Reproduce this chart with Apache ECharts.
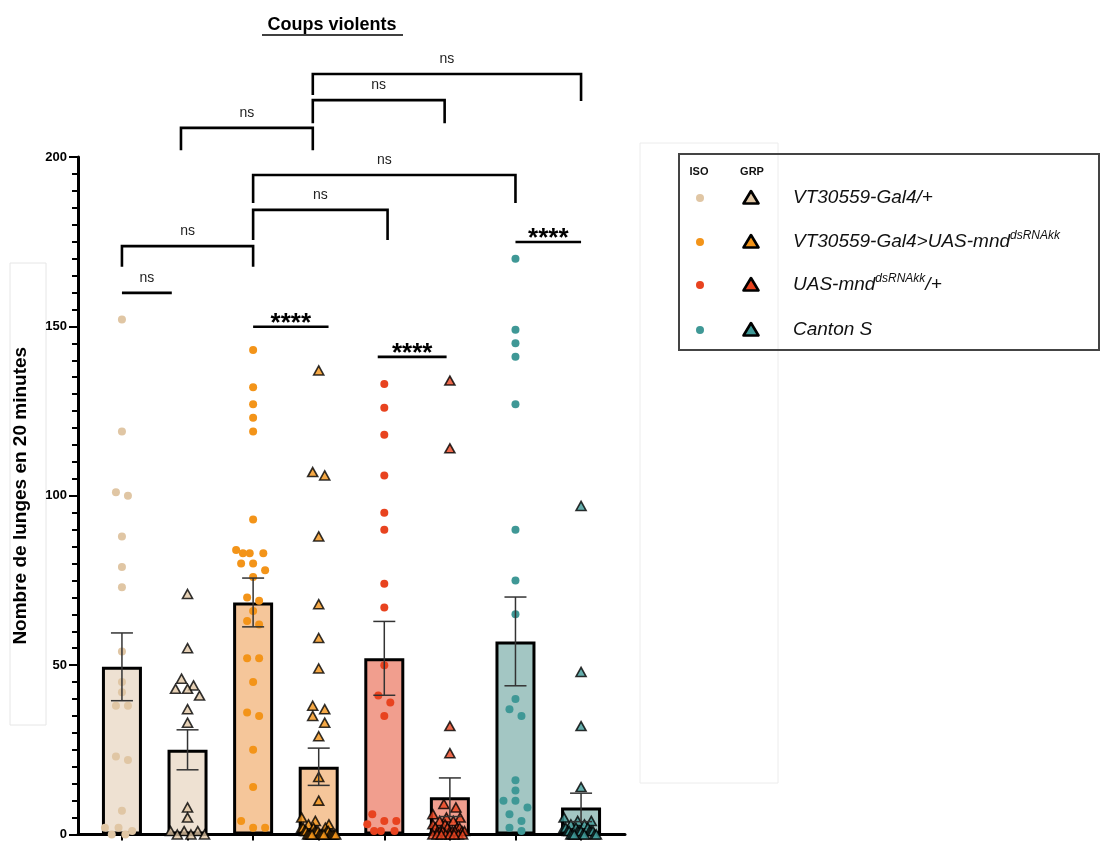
<!DOCTYPE html>
<html><head><meta charset="utf-8">
<script src="https://cdn.jsdelivr.net/npm/echarts@6/dist/echarts.min.js"></script>
<style>html,body{margin:0;padding:0;background:#fff}#c{width:1102px;height:841px}</style>
</head><body><div id="c"></div>
<script>
// ---------- DATA ----------
const genotypes = ['VT30559-Gal4/+', 'VT30559-Gal4>UAS-mnd', 'UAS-mnd', 'Canton S'];
const groupNames = ['VT/+ ISO','VT/+ GRP','VT>mnd ISO','VT>mnd GRP','mnd/+ ISO','mnd/+ GRP','CS ISO','CS GRP'];
const means = [49.5, 25, 68.5, 20, 52, 11, 57, 8];
const sems  = [10, 5.9, 7.2, 5.5, 10.9, 5.7, 13.1, 4.2];
const pts0 = [152,119,101,100,88,79,73,54,45,42,38,38,23,22,7,2,2,1,0,0];
const pts1 = [71,55,46,44,43,43,41,37,33,8,5,1,1,1,0,0,0];
const pts2 = [143,132,127,123,119,93,84,83,83,83,80,80,78,76,70,69,66,63,62,52,52,45,36,35,25,14,4,2,2];
const pts3 = [137,107,106,88,68,58,49,38,37,35,33,29,17,10,5,4,3,3,2,2,2,2,1,1,1,1,1,1,1,0,0,0,0,0,0,0,0,0,0,0,0,0];
const pts4 = [133,126,118,106,95,90,74,67,50,41,39,35,6,4,4,3,1,1,1];
const pts5 = [134,114,32,24,9,8,6,5,5,4,4,3,3,2,2,2,2,1,1,1,1,1,1,1,1,0,0,0,0,0,0,0,0];
const pts6 = [170,149,145,141,127,90,75,65,40,37,35,16,13,10,10,8,6,4,2,1];
const pts7 = [97,48,32,14,5,4,4,3,3,2,2,2,2,1,1,1,1,1,1,1,1,0,0,0,0,0,0,0];
const points = [pts0, pts1, pts2, pts3, pts4, pts5, pts6, pts7];
const yTicks = [0, 50, 100, 150, 200];
// brackets: [fromX, toX, level, leftLegEnd, rightLegEnd, label]
const brackets = [
  [2.91, 7, 224.5, 218.3, 216.5, 'ns'],
  [2.91, 4.92, 216.8, 210, 210, 'ns'],
  [0.9, 2.91, 208.6, 202, 202, 'ns'],
  [2, 6, 194.7, 186.4, 186.4, 'ns'],
  [2, 4.05, 184.4, 175.5, 175.5, 'ns'],
  [0, 2, 173.7, 167.6, 167.6, 'ns'],
  [0, 0.76, 159.9, 159.9, 159.9, 'ns'],
  [2, 3.15, 149.9, 149.9, 149.9, '****'],
  [3.9, 4.95, 141, 141, 141, '****'],
  [6, 7, 174.9, 174.9, 174.9, '****']
];
const legendLabels = [
  [{t:'VT30559-Gal4/+', sup:''}],
  [{t:'VT30559-Gal4>UAS-mnd', sup:'dsRNAkk'}],
  [{t:'UAS-mnd', sup:'dsRNAkk'}, {t:'/+', sup:''}],
  [{t:'Canton S', sup:''}]
];
// ---------- STYLE ----------
const barFill = ['#EEE1D2','#EEE1D2','#F5C69A','#F5C69A','#F19E8E','#F19E8E','#A3C6C3','#A3C6C3'];
const ptColor = ['#E0C6A4','#E0C6A4','#F39419','#F39419','#E8431F','#E8431F','#3F9896','#3F9896'];
const FONT = '"Liberation Sans", Arial, Helvetica, sans-serif';
const GRID = {left: 78, top: 157, width: 547, height: 678};
const X_MIN = -0.67, X_MAX = 7.67, Y_MIN = 0, Y_MAX = 200;

function swarm(values, idx, rowPx, stepPx, maxHalfPx) {
  const pxPerY = GRID.height / (Y_MAX - Y_MIN);
  const pxPerX = GRID.width / (X_MAX - X_MIN);
  const s = values.slice().sort((a, b) => b - a);
  const out = [];
  let i = 0;
  const cap = Math.floor(2 * maxHalfPx / stepPx) + 1;
  while (i < s.length) {
    let j = i;
    while (j < s.length && (s[i] - s[j]) * pxPerY < rowPx) j++;
    const row = s.slice(i, j), n = row.length;
    if (n <= cap) {
      row.forEach((v, k) => out.push([idx + (k - (n - 1) / 2) * stepPx / pxPerX, v]));
    } else {
      const passes = Math.ceil(n / cap), slots = cap * passes;
      const w = 2 * maxHalfPx / (slots - 1);
      row.forEach((v, k) => {
        const slot = (k % cap) * passes + Math.floor(k / cap);
        out.push([idx + (-maxHalfPx + slot * w) / pxPerX, v]);
      });
    }
    i = j;
  }
  return out;
}

const series = [];
series.push({
  type: 'bar', barWidth: 40, z: 2,
  itemStyle: {borderColor: '#000', borderWidth: 3},
  data: means.map((m, i) => ({value: [i, m], itemStyle: {color: barFill[i]}}))
});
points.forEach((vals, i) => {
  const grp = i % 2 === 1;
  series.push({
    type: 'scatter', z: 4, clip: false,
    symbol: grp ? 'triangle' : 'circle',
    symbolSize: grp ? [10, 9] : 8,
    itemStyle: grp ? {color: ptColor[i], borderColor: '#000', borderWidth: 1.6} : {color: ptColor[i], opacity: 1},
    data: swarm(vals, i, grp ? 9 : 9, 12, 17)
  });
});
series.push({
  type: 'custom', z: 6, encode: {x: 0, y: 1},
  data: means.map((m, i) => [i, m, sems[i]]),
  renderItem: (params, api) => {
    const x = api.value(0), m = api.value(1), s = api.value(2);
    const t = api.coord([x, m + s]), b = api.coord([x, m - s]);
    const st = {stroke: '#333', lineWidth: 1.5};
    return {type: 'group', children: [
      {type: 'line', shape: {x1: t[0], y1: t[1], x2: b[0], y2: b[1]}, style: st},
      {type: 'line', shape: {x1: t[0] - 11, y1: t[1], x2: t[0] + 11, y2: t[1]}, style: st},
      {type: 'line', shape: {x1: b[0] - 11, y1: b[1], x2: b[0] + 11, y2: b[1]}, style: st}
    ]};
  }
});
series.push({
  type: 'custom', z: 7, clip: false, encode: {x: 0, y: 1},
  data: brackets.map(b => [b[0], b[2]]),
  renderItem: (params, api) => {
    const b = brackets[params.dataIndex];
    const p1 = api.coord([b[0], b[3]]), p2 = api.coord([b[0], b[2]]);
    const p3 = api.coord([b[1], b[2]]), p4 = api.coord([b[1], b[4]]);
    const star = b[5] === '****';
    const cx = (p2[0] + p3[0]) / 2;
    return {type: 'group', children: [
      {type: 'polyline', shape: {points: [p1, p2, p3, p4]}, style: {stroke: '#000', lineWidth: 2.6, fill: null}},
      {type: 'text', x: cx, y: p2[1] - (star ? 3 : 15),
       style: {text: b[5], align: 'center', verticalAlign: 'middle', fill: star ? '#000' : '#222',
               font: (star ? 'bold 26px ' : '14px ') + FONT}}
    ]};
  }
});

// legend graphics
const graphic = [];
graphic.push({type: 'rect', shape: {x: 10, y: 263, width: 36, height: 462}, style: {fill: null, stroke: '#e6e6e6', lineWidth: 1}, silent: true});
graphic.push({type: 'rect', shape: {x: 640, y: 143, width: 138, height: 640}, style: {fill: null, stroke: '#ececec', lineWidth: 1}, silent: true});
graphic.push({type: 'text', x: 332, y: 25, style: {text: 'Coups violents', font: 'bold 18px ' + FONT, fill: '#000', align: 'center', verticalAlign: 'middle'}});
graphic.push({type: 'line', shape: {x1: 262, y1: 35, x2: 403, y2: 35}, style: {stroke: '#000', lineWidth: 1.5}});
graphic.push({type: 'rect', shape: {x: 679, y: 154, width: 420, height: 196}, style: {fill: null, stroke: '#444', lineWidth: 2}});
graphic.push({type: 'text', x: 699, y: 172, style: {text: 'ISO', font: 'bold 11px ' + FONT, fill: '#111', align: 'center', verticalAlign: 'middle'}});
graphic.push({type: 'text', x: 752, y: 172, style: {text: 'GRP', font: 'bold 11px ' + FONT, fill: '#111', align: 'center', verticalAlign: 'middle'}});
const rowY = [198, 242, 285, 330];
legendLabels.forEach((parts, r) => {
  const y = rowY[r];
  const c = ptColor[r * 2];
  graphic.push({type: 'circle', shape: {cx: 700, cy: y, r: 4}, style: {fill: c}});
  graphic.push({type: 'polygon', shape: {points: [[751, y - 7], [758.5, y + 5.5], [743.5, y + 5.5]]}, style: {fill: c, stroke: '#000', lineWidth: 2.6, lineJoin: 'round'}});
  let txt = '';
  parts.forEach(p => { txt += '{a|' + p.t + '}'; if (p.sup) txt += '{s|' + p.sup + '}'; });
  graphic.push({type: 'text', x: 793, y: y, style: {
    text: txt, align: 'left', verticalAlign: 'middle', fill: '#111',
    rich: {
      a: {fontSize: 19, fontStyle: 'italic', fontFamily: FONT, lineHeight: 24, fill: '#111', color: '#111'},
      s: {fontSize: 12, fontStyle: 'italic', fontFamily: FONT, lineHeight: 14, verticalAlign: 'top', fill: '#111', color: '#111'}
    }
  }});
});

const option = {
  animation: false,
  backgroundColor: '#fff',
  grid: {left: GRID.left, top: GRID.top, width: GRID.width, height: GRID.height, containLabel: false},
  xAxis: {
    type: 'value', min: X_MIN, max: X_MAX,
    axisLine: {show: true, onZero: false, lineStyle: {color: '#000', width: 3}},
    axisTick: {show: true, customValues: [0,1,2,3,4,5,6,7], length: 6, lineStyle: {color: '#000', width: 2}},
    axisLabel: {show: false}, splitLine: {show: false}
  },
  yAxis: {
    type: 'value', min: Y_MIN, max: Y_MAX, interval: 50,
    name: 'Nombre de lunges en 20 minutes', nameLocation: 'middle', nameGap: 48,
    nameTextStyle: {fontFamily: FONT, fontWeight: 'bold', fontSize: 19, color: '#000'},
    axisLine: {show: true, onZero: false, lineStyle: {color: '#000', width: 3}},
    axisTick: {show: true, length: 9, lineStyle: {color: '#000', width: 2}},
    minorTick: {show: true, splitNumber: 10, length: 6, lineStyle: {color: '#000', width: 2}},
    axisLabel: {fontFamily: FONT, fontWeight: 'bold', fontSize: 13, color: '#000', margin: 11,
      customValues: yTicks},
    splitLine: {show: false}
  },
  series: series,
  graphic: graphic
};
const chart = echarts.init(document.getElementById('c'), null, {width: 1102, height: 841});
chart.setOption(option);
</script></body></html>
